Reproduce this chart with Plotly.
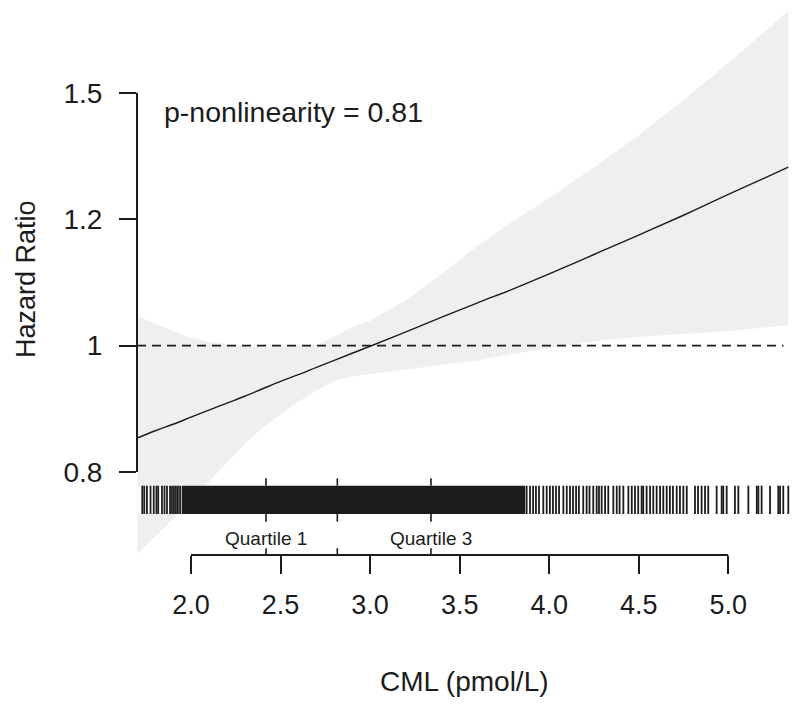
import numpy as np
import plotly.graph_objects as go

# ---------------- data ----------------
cml_grid = [1.70, 1.8, 1.9, 2.0, 2.1, 2.2, 2.3, 2.4, 2.5, 2.6, 2.7, 2.8, 2.9,
            3.0, 3.2, 3.4, 3.6, 3.8, 4.0, 4.25, 4.5, 4.75, 5.0, 5.335]
hr_fit = [0.864, 0.874, 0.883, 0.893, 0.903, 0.913, 0.923, 0.934, 0.945, 0.955,
          0.966, 0.977, 0.988, 0.999, 1.022, 1.046, 1.070, 1.094, 1.120, 1.155,
          1.191, 1.229, 1.270, 1.326]
hr_upper = [1.048, 1.035, 1.023, 1.012, 1.006, 1.002, 0.999, 0.998, 0.999, 0.999,
            1.001, 1.014, 1.030, 1.040, 1.075, 1.120, 1.171, 1.218, 1.263, 1.326,
            1.395, 1.475, 1.564, 1.698]
hr_lower = [0.719, 0.739, 0.760, 0.783, 0.806, 0.831, 0.856, 0.878, 0.896, 0.915,
            0.931, 0.946, 0.952, 0.956, 0.964, 0.970, 0.977, 0.987, 0.996, 1.007,
            1.014, 1.019, 1.023, 1.033]

# individual observations (rug), sparse tails
rug_values = [1.728, 1.739, 1.754, 1.774, 1.792, 1.807, 1.817, 1.838, 1.852, 1.866,
              1.883, 1.894, 1.905, 1.916, 1.927, 1.939,
              3.874, 3.893, 3.910, 3.926, 3.943, 3.967, 3.986, 4.004, 4.021, 4.038,
              4.055, 4.079, 4.098, 4.116, 4.133, 4.150, 4.166, 4.190, 4.209, 4.225,
              4.246, 4.265, 4.278, 4.293, 4.312, 4.330, 4.358, 4.377, 4.393, 4.414,
              4.442, 4.461, 4.479, 4.497, 4.516, 4.525, 4.544, 4.563, 4.581, 4.600,
              4.619, 4.637, 4.656, 4.674, 4.691, 4.712, 4.730, 4.749, 4.768, 4.814,
              4.831, 4.851, 4.870, 4.888, 4.935, 4.963, 4.972, 4.991, 5.037, 5.056,
              5.112, 5.159, 5.168, 5.186, 5.233, 5.279, 5.289, 5.307, 5.335]
# range where observations are so dense the rug is solid
rug_dense_range = [1.948, 3.866]

quartile_values = [2.419, 2.817, 3.340]   # Q1, median, Q3
quartile_labels = ["Quartile 1", None, "Quartile 3"]

x_tick_vals = [2.0, 2.5, 3.0, 3.5, 4.0, 4.5, 5.0]
x_tick_text = ["2.0", "2.5", "3.0", "3.5", "4.0", "4.5", "5.0"]
y_tick_log = [-0.2, 0.0, 0.2, 0.4]
y_tick_text = ["0.8", "1", "1.2", "1.5"]

p_text = "p-nonlinearity = 0.81"
x_title = "CML (pmol/L)"
y_title = "Hazard Ratio"

# ---------------- figure ----------------
# the page adds an 8px body margin, so the figure is 792x700 and
# screen coordinates below are converted accordingly
OFF = 8
W, H = 800 - OFF, 708 - OFF
SCR_LEFT, SCR_RIGHT, SCR_TOP, SCR_BOTTOM = 137, 790, 8, 555
ML = SCR_LEFT - OFF
MR = W - (SCR_RIGHT - OFF)
MT = SCR_TOP - OFF
MB = H - (SCR_BOTTOM - OFF)
plot_h = SCR_BOTTOM - SCR_TOP
plot_w = SCR_RIGHT - SCR_LEFT

def py2paper(py):
    return (SCR_BOTTOM - py) / plot_h

def px2paper(px):
    return (px - SCR_LEFT) / plot_w

FONT = "Liberation Sans, Arial, Helvetica, sans-serif"
INK = "#1c1c1c"

log_fit = np.log(hr_fit)
log_up = np.log(hr_upper)
log_lo = np.log(hr_lower)

fig = go.Figure()
fig.add_trace(go.Scatter(
    x=list(cml_grid) + list(cml_grid[::-1]),
    y=list(log_up) + list(log_lo[::-1]),
    fill="toself", fillcolor="#EFEFF1", line=dict(width=0),
    mode="lines", hoverinfo="skip", showlegend=False))
fig.add_trace(go.Scatter(
    x=cml_grid, y=log_fit, mode="lines",
    line=dict(color=INK, width=1.4, shape="spline"),
    showlegend=False))

shapes = []
# reference line HR = 1
shapes.append(dict(type="line", xref="paper", yref="y", x0=0, x1=0.99,
                   y0=0, y1=0, line=dict(color=INK, width=1.6, dash="9px,6px")))
# y axis line (R style)
shapes.append(dict(type="line", xref="paper", yref="y", x0=0, x1=0,
                   y0=y_tick_log[0], y1=y_tick_log[-1],
                   line=dict(color=INK, width=2)))
# x axis line (R style)
shapes.append(dict(type="line", xref="x", yref="paper", x0=x_tick_vals[0],
                   x1=x_tick_vals[-1], y0=0, y1=0, line=dict(color=INK, width=2)))

rug_top = py2paper(485.7)
rug_bot = py2paper(514.0)
# white strip behind the rug
shapes.append(dict(type="rect", xref="paper", yref="paper", x0=0, x1=1,
                   y0=rug_bot, y1=rug_top, fillcolor="white",
                   line=dict(width=0), layer="above"))
shapes.append(dict(type="rect", xref="x", yref="paper",
                   x0=rug_dense_range[0], x1=rug_dense_range[1],
                   y0=rug_bot, y1=rug_top, fillcolor=INK,
                   line=dict(width=0), layer="above"))
for v in rug_values:
    shapes.append(dict(type="line", xref="x", yref="paper", x0=v, x1=v,
                       y0=rug_bot, y1=rug_top, line=dict(color=INK, width=1.8),
                       layer="above"))
# quartile markers
for q in quartile_values:
    for (a, b) in [(478.3, 485.7), (514.0, 521.7), (548.3, 555.0)]:
        shapes.append(dict(type="line", xref="x", yref="paper", x0=q, x1=q,
                           y0=py2paper(b), y1=py2paper(a),
                           line=dict(color=INK, width=1.6), layer="above"))

annotations = []
for q, lab in zip(quartile_values, quartile_labels):
    if lab:
        annotations.append(dict(x=q, xref="x", y=py2paper(538), yref="paper",
                                text=lab, showarrow=False, xanchor="center",
                                yanchor="middle",
                                font=dict(family=FONT, size=19, color=INK)))
annotations.append(dict(x=px2paper(162), xref="paper", y=py2paper(112), yref="paper",
                        text=p_text, showarrow=False, xanchor="left", yanchor="middle",
                        font=dict(family=FONT, size=28.5, color=INK)))
annotations.append(dict(x=px2paper(465), xref="paper", y=py2paper(681), yref="paper",
                        text=x_title, showarrow=False, xanchor="center", yanchor="middle",
                        font=dict(family=FONT, size=28, color=INK)))
annotations.append(dict(x=px2paper(26), xref="paper", y=py2paper(279), yref="paper",
                        text=y_title, showarrow=False, textangle=-90,
                        xanchor="center", yanchor="middle",
                        font=dict(family=FONT, size=27, color=INK)))

# y range in log-HR units matching the screen rows of the plot area
Y_PER_PX = 1 / 632.2
y_range = [(345.6 - SCR_BOTTOM) * Y_PER_PX, (345.6 - SCR_TOP) * Y_PER_PX]

fig.update_layout(
    width=W, height=H,
    margin=dict(l=ML, r=MR, t=MT, b=MB, pad=0),
    paper_bgcolor="white", plot_bgcolor="white",
    showlegend=False,
    shapes=shapes, annotations=annotations,
    xaxis=dict(range=[1.6985, 5.3445], tickvals=x_tick_vals, ticktext=x_tick_text,
               ticks="outside", ticklen=18, tickwidth=2, tickcolor=INK,
               showline=False, showgrid=False, zeroline=False,
               ticklabelstandoff=8,
               tickfont=dict(family=FONT, size=27, color=INK)),
    yaxis=dict(range=y_range, tickvals=y_tick_log, ticktext=y_tick_text,
               ticks="outside", ticklen=17, tickwidth=2, tickcolor=INK,
               showline=False, showgrid=False, zeroline=False,
               ticklabelstandoff=11,
               tickfont=dict(family=FONT, size=28, color=INK)),
)

fig.write_html("out.html")
